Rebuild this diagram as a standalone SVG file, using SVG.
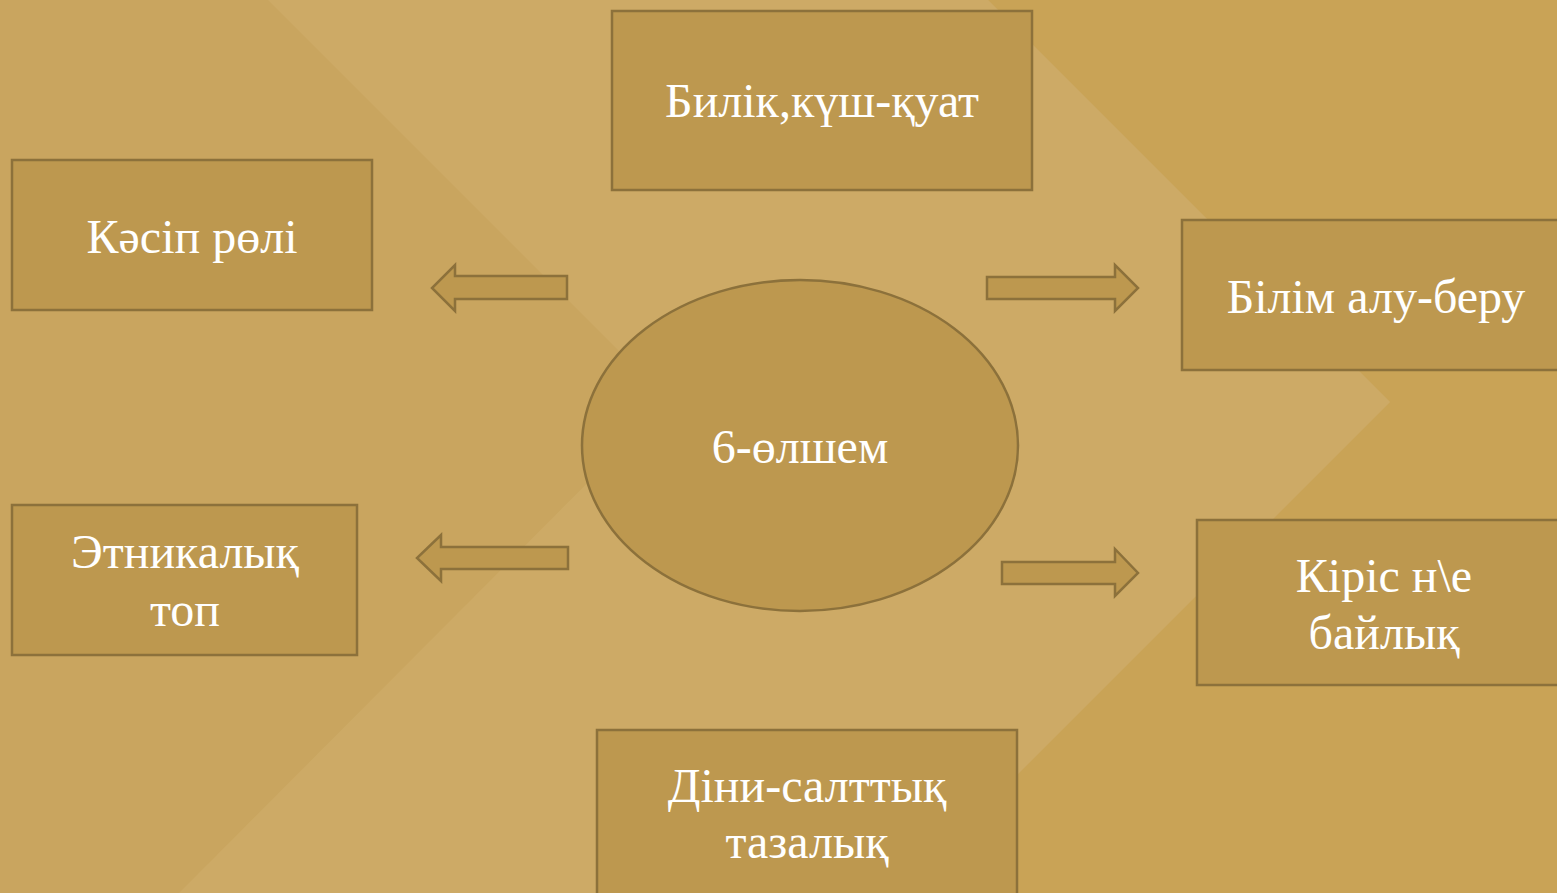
<svg xmlns="http://www.w3.org/2000/svg" width="1557" height="893" viewBox="0 0 1557 893">
  <style>
    .node { fill: #BD984F; stroke: #8C713B; stroke-width: 2.5; }
    .arrow { fill: #BD984F; stroke: #8C713B; stroke-width: 2.5; stroke-linejoin: miter; }
    .label { font-family: "Liberation Serif", "Times New Roman", serif; font-size: 48px; fill: #FFFFFF; text-anchor: middle; }
  </style>
  <g id="background">
    <rect x="0" y="0" width="1557" height="893" fill="#C9A55F"/>
    <polygon points="988,0 1557,0 1557,893 899,893 1390,402" fill="#C9A356"/>
    <polygon points="268,0 988,0 1390,402 899,893 179,893 669,401" fill="#CDAA66"/>
  </g>
  <g id="connectors">
    <polygon class="arrow" points="567,276 455,276 455,265 432,288 455,311 455,299 567,299"/>
    <polygon class="arrow" points="987,277 1115,277 1115,265 1138,288 1115,311 1115,299 987,299"/>
    <polygon class="arrow" points="568,547 441,547 441,535 417,558 441,581 441,569 568,569"/>
    <polygon class="arrow" points="1002,562 1115,562 1115,549 1138,573 1115,596 1115,584 1002,584"/>
  </g>
  <g id="node-center">
    <ellipse class="node" cx="800" cy="445.5" rx="218" ry="165.5"/>
    <text class="label" x="800" y="463">6-өлшем</text>
  </g>
  <g id="node-bilik">
    <rect class="node" x="612" y="11" width="420" height="179"/>
    <text class="label" x="822" y="117">Билік,күш-қуат</text>
  </g>
  <g id="node-kasip">
    <rect class="node" x="12" y="160" width="360" height="150"/>
    <text class="label" x="192" y="253">Кәсіп рөлі</text>
  </g>
  <g id="node-bilim">
    <rect class="node" x="1182" y="220" width="390" height="150"/>
    <text class="label" x="1376" y="313">Білім алу-беру</text>
  </g>
  <g id="node-etnikalyk">
    <rect class="node" x="12" y="505" width="345" height="150"/>
    <text class="label" x="185" y="568">Этникалық</text>
    <text class="label" x="185" y="626">топ</text>
  </g>
  <g id="node-kiris">
    <rect class="node" x="1197" y="520" width="380" height="165"/>
    <text class="label" x="1384" y="592">Кіріс н\е</text>
    <text class="label" x="1384" y="649">байлық</text>
  </g>
  <g id="node-dini">
    <rect class="node" x="597" y="730" width="420" height="180"/>
    <text class="label" x="807" y="802">Діни-салттық</text>
    <text class="label" x="807" y="858">тазалық</text>
  </g>
</svg>
